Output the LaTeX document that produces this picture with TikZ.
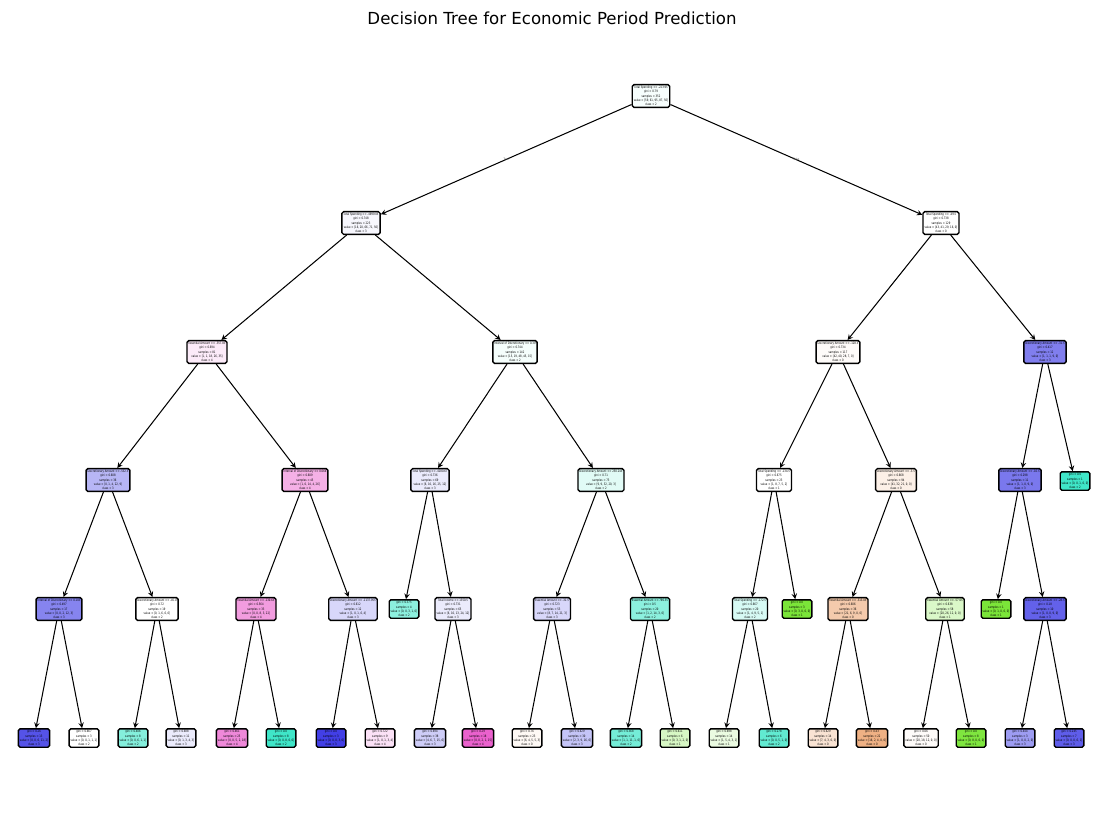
\documentclass[tikz,border=0pt]{standalone}
\usepackage{fontspec}
\setmainfont{DejaVu Sans}
\newfontfamily\treefont[FakeStretch=0.78]{DejaVu Sans}
\usetikzlibrary{arrows}

% class colours of the tree plot
\definecolor{czero}{RGB}{229,129,57}
\definecolor{cone}{RGB}{123,229,57}
\definecolor{ctwo}{RGB}{57,229,198}
\definecolor{cthree}{RGB}{60,57,229}
\definecolor{cfour}{RGB}{229,57,192}

\begin{document}
\begin{tikzpicture}[x=0.0254cm, y=-0.0254cm,
    tnode/.style={draw, rounded corners=1.2pt, line width=1pt, align=center, inner sep=1.1pt, font=\treefont\fontsize{2.3}{3.1}\selectfont},
    arrow/.style={->, line width=0.75pt, >=stealth},
    elabel/.style={font=\treefont\fontsize{2.3}{2.6}\selectfont, inner sep=0pt, text=black!60}
]
    \useasboundingbox (0,0) rectangle (1105,812);
    \node[font=\fontsize{12}{14}\selectfont] (title) at (552,18) {Decision Tree for Economic Period Prediction};

    % Root and first split
    \node[tnode, fill=ctwo!4] (n0) at (651,96) {Total Spending <= -223.95\\gini = 0.79\\samples = 352\\value = [59, 61, 95, 87, 50]\\class = 2};
    \node[tnode, fill=cthree!4] (n1) at (361,223) {Total Spending <= -4999.05\\gini = 0.748\\samples = 223\\value = [16, 20, 66, 71, 50]\\class = 3};
    \node[tnode, fill=white] (n2) at (941,223) {Total Spending <= -49.5\\gini = 0.738\\samples = 129\\value = [43, 41, 29, 16, 0]\\class = 0};

    % Depth 2
    \node[tnode, fill=cfour!10] (n3) at (207,352) {Essential Amount <= -357.83\\gini = 0.694\\samples = 81\\value = [1, 1, 18, 26, 35]\\class = 4};
    \node[tnode, fill=ctwo!5] (n4) at (515,352) {Interval of Discretionary <= 0.39\\gini = 0.744\\samples = 142\\value = [15, 19, 48, 45, 15]\\class = 2};
    \node[tnode, fill=czero!3] (n5) at (838,352) {Discretionary Amount <= -128.5\\gini = 0.734\\samples = 117\\value = [42, 40, 28, 7, 0]\\class = 0};
    \node[tnode, fill=cthree!65] (n6) at (1045,352) {Discretionary Amount <= -31.5\\gini = 0.417\\samples = 12\\value = [1, 1, 1, 9, 0]\\class = 3};

    % Depth 3
    \node[tnode, fill=cthree!37] (n7) at (108,480) {Discretionary Amount <= -532.5\\gini = 0.608\\samples = 36\\value = [0, 1, 4, 22, 9]\\class = 3};
    \node[tnode, fill=cfour!40] (n8) at (305,480) {Interval of Discretionary <= 0.066\\gini = 0.609\\samples = 45\\value = [1, 0, 14, 4, 26]\\class = 4};
    \node[tnode, fill=cthree!10] (n9) at (430,480) {Total Spending <= -4180.67\\gini = 0.736\\samples = 69\\value = [6, 10, 16, 25, 12]\\class = 3};
    \node[tnode, fill=ctwo!15] (n10) at (601,480) {Discretionary Amount <= 250.245\\gini = 0.71\\samples = 73\\value = [9, 9, 32, 20, 3]\\class = 2};
    \node[tnode, fill=white] (n11) at (774,480) {Total Spending <= -134.5\\gini = 0.675\\samples = 23\\value = [1, 8, 7, 5, 2]\\class = 1};
    \node[tnode, fill=czero!12] (n12) at (896,480) {Discretionary Amount <= -3.5\\gini = 0.668\\samples = 94\\value = [41, 32, 21, 0, 0]\\class = 0};
    \node[tnode, fill=cthree!68] (n13) at (1020,480) {Discretionary Amount <= -16.5\\gini = 0.298\\samples = 11\\value = [1, 1, 0, 9, 0]\\class = 3};
    \node[tnode, fill=ctwo!97] (n14) at (1075,481) {gini = 0.0\\samples = 1\\value = [0, 0, 1, 0, 0]\\class = 2};

    % Depth 4
    \node[tnode, fill=cthree!62] (n15) at (59,609) {Interval of Discretionary <= 0.103\\gini = 0.497\\samples = 17\\value = [0, 0, 2, 12, 3]\\class = 3};
    \node[tnode, fill=white] (n16) at (157,609) {Discretionary Amount <= -45.0\\gini = 0.72\\samples = 19\\value = [0, 1, 6, 6, 6]\\class = 2};
    \node[tnode, fill=cfour!50] (n17) at (256,609) {Essential Amount <= -130.65\\gini = 0.564\\samples = 33\\value = [0, 0, 8, 3, 22]\\class = 4};
    \node[tnode, fill=cthree!20] (n18) at (353,609) {Discretionary Amount <= -1137.955\\gini = 0.612\\samples = 12\\value = [1, 0, 1, 6, 4]\\class = 3};
    \node[tnode, fill=ctwo!58] (n19) at (404,609) {gini = 0.375\\samples = 4\\value = [0, 0, 3, 1, 0]\\class = 2};
    \node[tnode, fill=cthree!10] (n20) at (453,609) {Total Income <= 1350.5\\gini = 0.731\\samples = 65\\value = [6, 10, 13, 24, 12]\\class = 3};
    \node[tnode, fill=cthree!20] (n21) at (552,609) {Essential Amount <= -31.5\\gini = 0.723\\samples = 53\\value = [8, 7, 14, 21, 3]\\class = 3};
    \node[tnode, fill=ctwo!58] (n22) at (650,609) {Essential Amount <= 790.55\\gini = 0.5\\samples = 20\\value = [1, 2, 14, 3, 0]\\class = 2};
    \node[tnode, fill=ctwo!20] (n23) at (750,609) {Total Spending <= -172.5\\gini = 0.667\\samples = 20\\value = [1, 4, 9, 5, 1]\\class = 2};
    \node[tnode, fill=cone] (n24) at (797,609) {gini = 0.0\\samples = 3\\value = [0, 3, 0, 0, 0]\\class = 1};
    \node[tnode, fill=czero!42] (n25) at (848,609) {Essential Amount <= -513.05\\gini = 0.606\\samples = 36\\value = [21, 6, 9, 0, 0]\\class = 0};
    \node[tnode, fill=cone!28] (n26) at (945,609) {Essential Amount <= -57.05\\gini = 0.638\\samples = 58\\value = [20, 26, 12, 0, 0]\\class = 1};
    \node[tnode, fill=cone] (n27) at (996,609) {gini = 0.0\\samples = 1\\value = [0, 1, 0, 0, 0]\\class = 1};
    \node[tnode, fill=cthree!80] (n28) at (1045,609) {Discretionary Amount <= -28.5\\gini = 0.18\\samples = 10\\value = [1, 0, 0, 9, 0]\\class = 3};

    % Leaves
    \node[tnode, fill=cthree!87] (n29) at (34,738) {gini = 0.26\\samples = 13\\value = [0, 0, 0, 11, 2]\\class = 3};
    \node[tnode, fill=white] (n30) at (84,738) {gini = 0.667\\samples = 3\\value = [0, 0, 1, 1, 1]\\class = 2};
    \node[tnode, fill=ctwo!62] (n31) at (133,738) {gini = 0.406\\samples = 8\\value = [0, 0, 6, 1, 1]\\class = 2};
    \node[tnode, fill=cthree!10] (n32) at (181,738) {gini = 0.688\\samples = 11\\value = [0, 1, 3, 4, 3]\\class = 3};
    \node[tnode, fill=cfour!60] (n33) at (232,738) {gini = 0.461\\samples = 25\\value = [0, 0, 5, 2, 18]\\class = 4};
    \node[tnode, fill=ctwo!97] (n34) at (281,738) {gini = 0.0\\samples = 8\\value = [0, 0, 8, 0, 0]\\class = 2};
    \node[tnode, fill=cthree!97] (n35) at (331,738) {gini = 0.0\\samples = 3\\value = [0, 0, 0, 3, 0]\\class = 3};
    \node[tnode, fill=cfour!15] (n36) at (380,738) {gini = 0.722\\samples = 9\\value = [1, 0, 1, 3, 4]\\class = 4};
    \node[tnode, fill=cthree!25] (n37) at (430,738) {gini = 0.694\\samples = 38\\value = [4, 6, 7, 15, 6]\\class = 3};
    \node[tnode, fill=cfour!80] (n38) at (478,738) {gini = 0.29\\samples = 18\\value = [0, 0, 2, 1, 15]\\class = 4};
    \node[tnode, fill=czero!5] (n39) at (527,738) {gini = 0.76\\samples = 23\\value = [6, 4, 5, 5, 3]\\class = 0};
    \node[tnode, fill=cthree!30] (n40) at (577,738) {gini = 0.629\\samples = 30\\value = [2, 3, 9, 16, 0]\\class = 3};
    \node[tnode, fill=ctwo!70] (n41) at (626,738) {gini = 0.368\\samples = 14\\value = [1, 1, 11, 1, 0]\\class = 2};
    \node[tnode, fill=cone!30] (n42) at (675,738) {gini = 0.611\\samples = 6\\value = [0, 3, 1, 2, 0]\\class = 1};
    \node[tnode, fill=cone!15] (n43) at (724,738) {gini = 0.698\\samples = 14\\value = [1, 5, 4, 3, 1]\\class = 1};
    \node[tnode, fill=ctwo!80] (n44) at (774,738) {gini = 0.278\\samples = 6\\value = [0, 0, 5, 1, 0]\\class = 2};
    \node[tnode, fill=czero!22] (n45) at (823,738) {gini = 0.629\\samples = 14\\value = [7, 4, 3, 0, 0]\\class = 0};
    \node[tnode, fill=czero!62] (n46) at (872,738) {gini = 0.43\\samples = 22\\value = [16, 2, 4, 0, 0]\\class = 0};
    \node[tnode, fill=czero!3] (n47) at (921,738) {gini = 0.66\\samples = 50\\value = [20, 18, 12, 0, 0]\\class = 0};
    \node[tnode, fill=cone!97] (n48) at (971,738) {gini = 0.0\\samples = 8\\value = [0, 8, 0, 0, 0]\\class = 1};
    \node[tnode, fill=cthree!50] (n49) at (1020,738) {gini = 0.444\\samples = 3\\value = [1, 0, 0, 2, 0]\\class = 3};
    \node[tnode, fill=cthree!82] (n50) at (1069,738) {gini = 0.245\\samples = 7\\value = [0, 0, 0, 6, 1]\\class = 3};

    % Arrows
    \draw[arrow] (n0) -- node[elabel] {True} (n1);
    \draw[arrow] (n0) -- node[elabel] {False} (n2);
    \draw[arrow] (n1) -- (n3);
    \draw[arrow] (n1) -- (n4);
    \draw[arrow] (n2) -- (n5);
    \draw[arrow] (n2) -- (n6);
    \draw[arrow] (n3) -- (n7);
    \draw[arrow] (n3) -- (n8);
    \draw[arrow] (n4) -- (n9);
    \draw[arrow] (n4) -- (n10);
    \draw[arrow] (n5) -- (n11);
    \draw[arrow] (n5) -- (n12);
    \draw[arrow] (n6) -- (n13);
    \draw[arrow] (n6) -- (n14);
    \draw[arrow] (n7) -- (n15);
    \draw[arrow] (n7) -- (n16);
    \draw[arrow] (n8) -- (n17);
    \draw[arrow] (n8) -- (n18);
    \draw[arrow] (n9) -- (n19);
    \draw[arrow] (n9) -- (n20);
    \draw[arrow] (n10) -- (n21);
    \draw[arrow] (n10) -- (n22);
    \draw[arrow] (n11) -- (n23);
    \draw[arrow] (n11) -- (n24);
    \draw[arrow] (n12) -- (n25);
    \draw[arrow] (n12) -- (n26);
    \draw[arrow] (n13) -- (n27);
    \draw[arrow] (n13) -- (n28);
    \draw[arrow] (n15) -- (n29);
    \draw[arrow] (n15) -- (n30);
    \draw[arrow] (n16) -- (n31);
    \draw[arrow] (n16) -- (n32);
    \draw[arrow] (n17) -- (n33);
    \draw[arrow] (n17) -- (n34);
    \draw[arrow] (n18) -- (n35);
    \draw[arrow] (n18) -- (n36);
    \draw[arrow] (n20) -- (n37);
    \draw[arrow] (n20) -- (n38);
    \draw[arrow] (n21) -- (n39);
    \draw[arrow] (n21) -- (n40);
    \draw[arrow] (n22) -- (n41);
    \draw[arrow] (n22) -- (n42);
    \draw[arrow] (n23) -- (n43);
    \draw[arrow] (n23) -- (n44);
    \draw[arrow] (n25) -- (n45);
    \draw[arrow] (n25) -- (n46);
    \draw[arrow] (n26) -- (n47);
    \draw[arrow] (n26) -- (n48);
    \draw[arrow] (n28) -- (n49);
    \draw[arrow] (n28) -- (n50);
\end{tikzpicture}
\end{document}
